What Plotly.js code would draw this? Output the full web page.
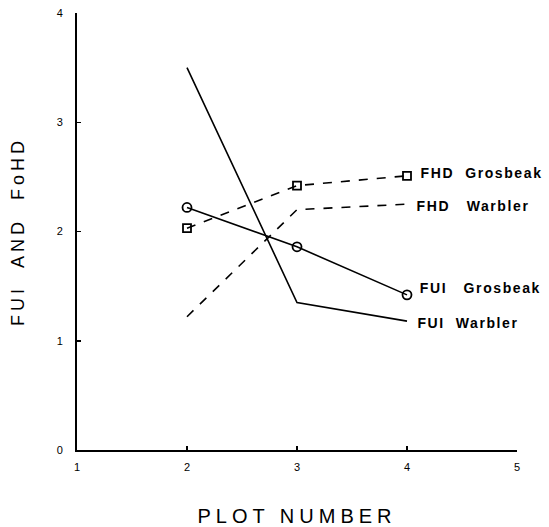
<!DOCTYPE html>
<html><head><meta charset="utf-8">
<script src="https://cdn.plot.ly/plotly-3.0.1.min.js"></script>
<style>body{margin:0;background:#fff}#c{width:549px;height:527px}</style>
</head><body><div id="c"></div>
<script>
const plots = [2, 3, 4];
const fuiWarbler = [3.50, 1.35, 1.18];
const fuiGrosbeak = [2.22, 1.86, 1.42];
const fhdGrosbeak = [2.03, 2.42, 2.51];
const fhdWarbler = [1.22, 2.20, 2.25];
const seriesNames = ['FUI  Warbler', 'FUI   Grosbeak', 'FHD  Grosbeak', 'FHD   Warbler'];
const xTicks = [1, 2, 3, 4, 5];
const yTicks = [0, 1, 2, 3, 4];

const line = (dash) => ({color: '#000', width: 1.6, dash: dash});
const traces = [
  {x: plots, y: fuiWarbler, mode: 'lines', line: line('solid')},
  {x: plots, y: fuiGrosbeak, mode: 'lines+markers', line: line('solid'),
   marker: {symbol: 'circle-open', size: 9, color: '#000', line: {width: 1.8}}},
  {x: plots, y: fhdGrosbeak, mode: 'lines+markers', line: line('dash'),
   marker: {symbol: 'square-open', size: 8, color: '#000', line: {width: 1.8}}},
  {x: plots, y: fhdWarbler, mode: 'lines', line: line('dash')}
];
const series = [fuiWarbler, fuiGrosbeak, fhdGrosbeak, fhdWarbler];
const xshifts = [18, 22, 22, 18];
const yshifts = [-2, 7, 3, -2];
const annotations = seriesNames.map((n, i) => ({
  x: plots[plots.length - 1], y: series[i][series[i].length - 1],
  xref: 'x', yref: 'y', text: n, showarrow: false, xanchor: 'left',
  xshift: xshifts[i], yshift: yshifts[i],
  font: {family: 'Liberation Sans, Arial, sans-serif', size: 14, color: '#000', weight: 'bold'}
}));

const layout = {
  width: 549, height: 527,
  margin: {l: 77, r: 32, t: 13, b: 77},
  paper_bgcolor: '#fff', plot_bgcolor: '#fff',
  showlegend: false,
  font: {family: 'Liberation Sans, Arial, sans-serif', color: '#000'},
  xaxis: {
    range: [1, 5], tickvals: xTicks, ticktext: xTicks.map(String),
    showgrid: false, zeroline: false, showline: true, linecolor: '#000', linewidth: 2,
    ticks: 'inside', ticklen: 4, tickcolor: '#000', tickwidth: 1.5,
    tickfont: {size: 11}, ticklabelstandoff: 6,
    title: {text: 'PLOT NUMBER', font: {size: 20}, standoff: 40}
  },
  yaxis: {
    range: [0, 4], tickvals: yTicks, ticktext: yTicks.map(String),
    showgrid: false, zeroline: false, showline: true, linecolor: '#000', linewidth: 2,
    ticks: 'inside', ticklen: 4, tickcolor: '#000', tickwidth: 1.5,
    tickfont: {size: 11}, ticklabelstandoff: 10,
    title: {text: 'FUI  AND  FoHD', font: {size: 18}, standoff: 27}
  },
  annotations: annotations
};
Plotly.newPlot('c', traces, layout, {staticPlot: true}).then(() => {
  document.querySelectorAll('.xtitle').forEach(e => e.style.letterSpacing = '5px');
  document.querySelectorAll('.ytitle').forEach(e => e.style.letterSpacing = '4px');
  document.querySelectorAll('.annotation-text').forEach(e => e.style.letterSpacing = '1.6px');
});
</script></body></html>
